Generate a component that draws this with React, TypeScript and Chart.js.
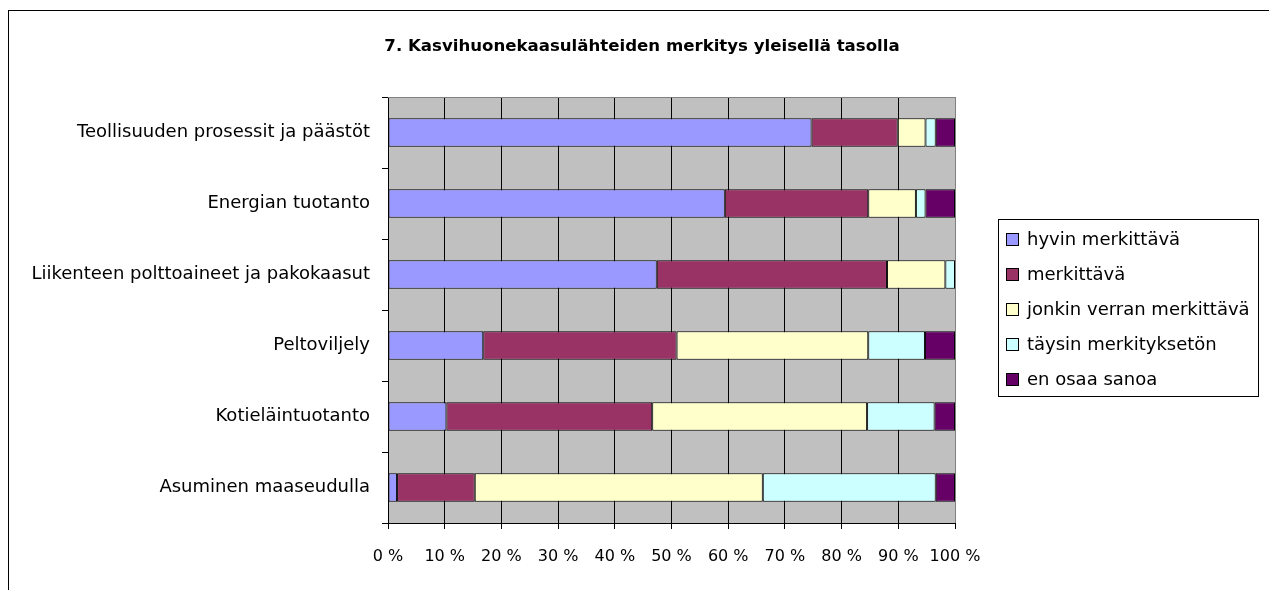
import React, { useEffect, useRef } from "react";
import { Chart, registerables } from "chart.js";

Chart.register(...registerables);

const titleText = "7. Kasvihuonekaasulähteiden merkitys yleisellä tasolla";

const categories = [
  "Teollisuuden prosessit ja päästöt",
  "Energian tuotanto",
  "Liikenteen polttoaineet ja pakokaasut",
  "Peltoviljely",
  "Kotieläintuotanto",
  "Asuminen maaseudulla",
];

const seriesNames = [
  "hyvin merkittävä",
  "merkittävä",
  "jonkin verran merkittävä",
  "täysin merkityksetön",
  "en osaa sanoa",
];

const hyvinMerkittava = [74.7, 59.4, 47.4, 16.8, 10.3, 1.6];
const merkittava = [15.2, 25.3, 40.6, 34.1, 36.3, 13.7];
const jonkinVerranMerkittava = [4.9, 8.4, 10.3, 33.8, 37.9, 50.8];
const taysinMerkitykseton = [1.8, 1.7, 1.7, 10.0, 11.9, 30.5];
const enOsaaSanoa = [3.4, 5.2, 0, 5.3, 3.6, 3.4];

const seriesColors = ["#9999FF", "#993366", "#FFFFCC", "#CCFFFF", "#660066"];

const xTickValues = [0, 10, 20, 30, 40, 50, 60, 70, 80, 90, 100];
const xTickSuffix = " %";

const FONT = '"DejaVu Sans", Verdana, sans-serif';

const decorPlugin = {
  id: "decor",
  beforeDraw(chart: any) {
    const { ctx, chartArea } = chart;
    ctx.save();
    ctx.fillStyle = "#C0C0C0";
    ctx.fillRect(chartArea.left, chartArea.top, chartArea.right - chartArea.left, chartArea.bottom - chartArea.top);
    ctx.restore();
  },
  afterDraw(chart: any) {
    const { ctx, chartArea } = chart;
    ctx.save();
    // top edge of plot area
    ctx.strokeStyle = "#808080";
    ctx.lineWidth = 1;
    ctx.beginPath();
    ctx.moveTo(chartArea.left, Math.round(chartArea.top) + 0.5);
    ctx.lineTo(chartArea.right, Math.round(chartArea.top) + 0.5);
    ctx.stroke();

    // title
    ctx.fillStyle = "#000";
    ctx.font = `bold 16.6px ${FONT}`;
    ctx.textAlign = "center";
    ctx.textBaseline = "middle";
    ctx.fillText(titleText, 642, 47);

    // legend
    const bx = 998.5, by = 219.5, bw = 260, bh = 177;
    ctx.strokeStyle = "#000";
    ctx.lineWidth = 1;
    ctx.strokeRect(bx, by, bw, bh);
    ctx.font = `18px ${FONT}`;
    ctx.textAlign = "left";
    ctx.textBaseline = "middle";
    chart.data.datasets.forEach((ds: any, i: number) => {
      const cy = 240 + i * 35;
      ctx.fillStyle = ds.backgroundColor;
      ctx.fillRect(1006.5, cy - 6.5, 12, 12);
      ctx.strokeStyle = "#000";
      ctx.strokeRect(1006.5, cy - 6.5, 12, 12);
      ctx.fillStyle = "#000";
      ctx.fillText(ds.label, 1027, cy);
    });
    ctx.restore();
  },
};

export default function App() {
  const ref = useRef<HTMLCanvasElement | null>(null);

  useEffect(() => {
    if (!ref.current) return;
    const seriesData = [hyvinMerkittava, merkittava, jonkinVerranMerkittava, taysinMerkitykseton, enOsaaSanoa];
    const chart = new Chart(ref.current, {
      type: "bar",
      data: {
        labels: categories,
        datasets: seriesNames.map((name, i) => ({
          label: name,
          data: seriesData[i],
          backgroundColor: seriesColors[i],
          borderColor: "#000",
          borderWidth: 1,
          borderSkipped: false,
          barPercentage: 0.4,
          categoryPercentage: 1,
        })),
      },
      options: {
        indexAxis: "y",
        animation: false,
        responsive: false,
        devicePixelRatio: 1,
        layout: { padding: { left: 0, right: 314, top: 97, bottom: 0 } },
        plugins: {
          legend: { display: false },
          title: { display: false },
          tooltip: { enabled: false },
        },
        scales: {
          x: {
            type: "linear",
            stacked: true,
            min: 0,
            max: 100,
            afterBuildTicks(scale: any) {
              scale.ticks = xTickValues.map((v) => ({ value: v }));
            },
            afterFit(scale: any) {
              scale.height = 67;
            },
            ticks: {
              autoSkip: false,
              maxRotation: 0,
              padding: 18,
              color: "#000",
              font: { family: FONT, size: 16 },
              callback: (v: any) => `${v}${xTickSuffix}`,
            },
            grid: {
              color: (c: any) => (c.tick && c.tick.value === 100 ? "#808080" : "#000"),
              lineWidth: 1,
              drawTicks: true,
              tickLength: 6,
              tickColor: "#000",
            },
            border: { color: "#000", width: 1 },
          },
          y: {
            type: "category",
            stacked: true,
            afterFit(scale: any) {
              scale.width = 388;
            },
            ticks: {
              padding: 12,
              color: "#000",
              font: { family: FONT, size: 18 },
            },
            grid: {
              display: true,
              drawOnChartArea: false,
              drawTicks: true,
              tickLength: 6,
              tickColor: "#000",
              offset: true,
            },
            border: { color: "#000", width: 1 },
          },
        },
      },
      plugins: [decorPlugin],
    });
    return () => chart.destroy();
  }, []);

  return (
    <div style={{ position: "fixed", left: 0, top: 0, width: 1269, height: 590, overflow: "hidden", background: "#fff" }}>
      <div
        style={{
          position: "absolute",
          left: 8,
          top: 10,
          width: 1400,
          height: 700,
          borderTop: "1px solid #000",
          borderLeft: "1px solid #000",
        }}
      />
      <canvas ref={ref} width={1269} height={590} style={{ position: "absolute", left: 0, top: 0, width: 1269, height: 590 }} />
    </div>
  );
}
